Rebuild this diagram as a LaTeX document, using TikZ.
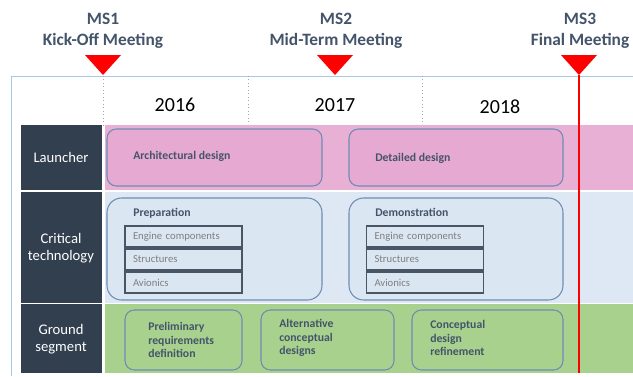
\documentclass[tikz,border=0pt]{standalone}
\usepackage{fontspec}
\setmainfont{Carlito}
\usepackage{tikz}
\usetikzlibrary{calc}
\definecolor{slate}{HTML}{44546A}
\definecolor{navy}{HTML}{323F4F}
\definecolor{framec}{HTML}{A9C8E8}
\definecolor{mred}{HTML}{FF0000}
\definecolor{pinkband}{HTML}{E8B0D4}
\definecolor{pinkbox}{HTML}{E6A9D1}
\definecolor{blueband}{HTML}{DEE8F4}
\definecolor{bluebox}{HTML}{DBE6F3}
\definecolor{greenband}{HTML}{A9D18E}
\definecolor{edge}{HTML}{6F8DB3}
\definecolor{subedge}{HTML}{4A5566}
\definecolor{subtext}{HTML}{7F7F7F}
\tikzset{
  framel/.style={draw=framec, line width=0.6pt},
  yeartick/.style={draw=gray!70, dotted, line width=0.6pt},
  msmark/.style={fill=mred},
  redline/.style={draw=mred, line width=1.5pt},
  rowlab/.style={text=white, font=\fontsize{11}{13}\selectfont, align=center},
  phase/.style={draw=edge, line width=0.8pt, rounded corners=7pt},
  subbox/.style={draw=subedge, line width=0.9pt, minimum width=87.75pt, minimum height=15.75pt,
    text width=75.75pt, inner xsep=6pt, inner ysep=0pt, align=left,
    text=subtext, font=\fontsize{8}{10}\selectfont},
  ttl/.style={text=slate, font=\bfseries\fontsize{8.8}{10}\selectfont, anchor=west, inner sep=0pt, align=left},
  ms/.style={text=slate, font=\bfseries\fontsize{13}{15.75}\selectfont, align=center},
  yr/.style={font=\fontsize{15}{18}\selectfont}
}

\begin{document}
\begin{tikzpicture}[x=0.75pt, y=-0.75pt]
  \useasboundingbox (0,0) rectangle (633,376);
  \fill[white] (0,0) rectangle (633,376);

  % frame and year ticks
  \draw[framel] (11,376) -- (11,76) -- (633,76);
  \draw[yeartick] (103,76) -- (103,125);
  \draw[yeartick] (248,76) -- (248,125);
  \draw[yeartick] (422,76) -- (422,125);

  \node[yr] (y2016) at (175,105) {2016};
  \node[yr] (y2017) at (335,105) {2017};
  \node[yr] (y2018) at (500,107) {2018};

  % bands
  \fill[pinkband] (105,125) rectangle (633,190);
  \fill[blueband] (105,192) rectangle (633,303);
  \fill[greenband] (105,304) rectangle (633,373);

  \fill[navy] (21,125) rectangle (102,190);
  \fill[navy] (21,192) rectangle (102,303);
  \fill[navy] (21,304) rectangle (102,373);
  \node[rowlab] (launcher) at (61,157) {Launcher};
  \node[rowlab] (crit) at (61,248) {Critical\\technology};
  \node[rowlab] (ground) at (61,339) {Ground\\segment};

  % launcher
  \draw[phase, fill=pinkbox] (107,129) rectangle (322,186);
  \draw[phase, fill=pinkbox] (349,129) rectangle (563,186);
  \node[ttl] (arch) at (133,156) {Architectural design};
  \node[ttl] (detail) at (375,158) {Detailed design};

  % critical technology
  \draw[phase, fill=bluebox, rounded corners=11pt] (107,198) rectangle (322,300);
  \draw[phase, fill=bluebox, rounded corners=11pt] (349,198) rectangle (563,300);
  \node[ttl] (prep) at (133,213) {Preparation};
  \node[ttl] (demo) at (375,212) {Demonstration};

  \node[subbox] (prepeng) at (183.5,236.5) {Engine components};
  \node[subbox] (prepstr) at (183.5,259.5) {Structures};
  \node[subbox] (prepavi) at (183.5,282.5) {Avionics};
  \node[subbox] (demoeng) at (425,236.5) {Engine components};
  \node[subbox] (demostr) at (425,259.5) {Structures};
  \node[subbox] (demoavi) at (425,282.5) {Avionics};

  % ground segment
  \draw[phase, fill=greenband] (125,310) rectangle (242,370);
  \draw[phase, fill=greenband] (261,310) rectangle (394,370);
  \draw[phase, fill=greenband] (412,310) rectangle (563,370);
  \node[ttl] (prelim) at (148,340) {Preliminary\\requirements\\definition};
  \node[ttl] (altern) at (279,338) {Alternative\\conceptual\\designs};
  \node[ttl] (refine) at (430,338) {Conceptual\\design\\refinement};

  % milestones
  \node[ms] (ms1) at (103,31) {MS1\\Kick-Off Meeting};
  \node[ms] (ms2) at (336,31) {MS2\\Mid-Term Meeting};
  \node[ms] (ms3) at (580,31) {MS3\\Final Meeting};
  \coordinate (ms1tip) at (103,75);
  \coordinate (ms2tip) at (335,75);
  \coordinate (ms3tip) at (579,75);
  \coordinate (ms3end) at (579,373);

  \draw[redline] (ms3tip) -- (ms3end);
  \fill[msmark] (ms1tip) -- ++(-18,-20) -- ++(36,0) -- cycle;
  \fill[msmark] (ms2tip) -- ++(-18,-20) -- ++(36,0) -- cycle;
  \fill[msmark] (ms3tip) -- ++(-18,-20) -- ++(36,0) -- cycle;
\end{tikzpicture}
\end{document}
